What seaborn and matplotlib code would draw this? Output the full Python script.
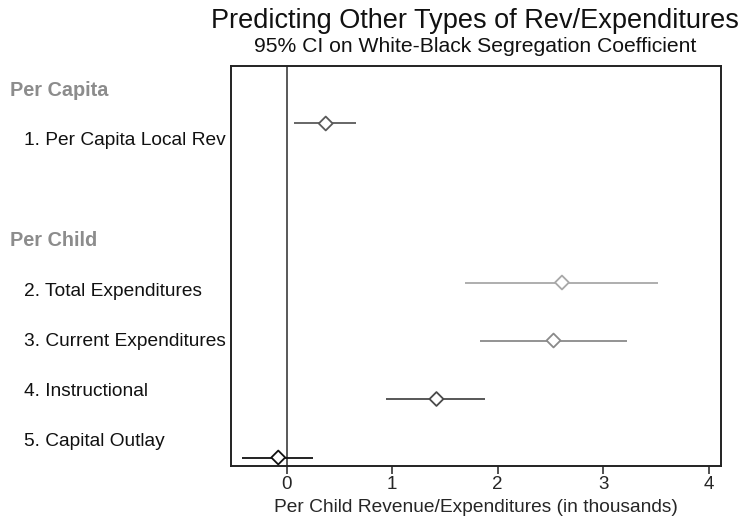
import matplotlib
matplotlib.use("Agg")
import matplotlib.pyplot as plt
import matplotlib.transforms as mtransforms
import seaborn as sns
import pandas as pd

# Outcomes and their estimated segregation coefficients with 95% CIs
outcomes = ["1. Per Capita Local Rev", "2. Total Expenditures",
            "3. Current Expenditures", "4. Instructional", "5. Capital Outlay"]
estimates = [0.37, 2.61, 2.53, 1.42, -0.08]
ci_low = [0.07, 1.69, 1.83, 0.94, -0.42]
ci_high = [0.66, 3.52, 3.23, 1.88, 0.25]
colors = ["#5a5a5a", "#a8a8a8", "#8a8a8a", "#4a4a4a", "#111111"]

# Row layout (band units from the top of the plot)
marker_rows = [1.15, 4.33, 5.49, 6.66, 7.83]
group_headers = ["Per Capita", "Per Child"]
header_rows = [0.5, 3.5]
label_rows = [1.5, 4.5, 5.5, 6.5, 7.5]

xticks = [0, 1, 2, 3, 4]
xlabel = "Per Child Revenue/Expenditures (in thousands)"
title = "Predicting Other Types of Rev/Expenditures"
subtitle = "95% CI on White-Black Segregation Coefficient"

sns.set_style("white")
plt.rcParams["font.family"] = ["Liberation Sans", "DejaVu Sans"]

df = pd.DataFrame({"outcome": outcomes, "est": estimates, "lo": ci_low,
                   "hi": ci_high, "row": marker_rows})

fig = plt.figure(figsize=(7.41, 5.19), dpi=100)
ax = fig.add_axes([230.7 / 741, 1 - 466 / 519, (721 - 230.7) / 741, (466 - 66) / 519])

# Reference line at zero
ax.axvline(0, color="#3c3c3c", lw=1.2, zorder=1)

# Confidence intervals
for i, r in df.iterrows():
    ax.hlines(r["row"], r["lo"], r["hi"], color=colors[i], lw=1.3, zorder=2)

# Point estimates
sns.scatterplot(data=df, x="est", y="row", hue="outcome", palette=colors,
                marker="D", s=50, linewidth=1.3, legend=False, ax=ax, zorder=3)
pts = ax.collections[-1]
pts.set_facecolor("white")
pts.set_edgecolor(colors)

ax.set_xlim(-0.531, 4.118)
ax.set_ylim(8, 0)
ax.set_xticks(xticks)
ax.set_xticklabels([str(t) for t in xticks], fontsize=13.5)
ax.set_xlabel(xlabel, fontsize=13.8, labelpad=4)
ax.set_ylabel("")

# Band separators show as small breaks in the side frame
ax.set_yticks([1, 2, 3, 4, 5, 6, 7])
ax.set_yticklabels([])
ax.tick_params(axis="y", left=True, right=True, direction="inout",
               length=4, width=1.2, color="white")
ax.tick_params(axis="x", bottom=True, direction="out", length=6,
               width=1.2, color="#333333", pad=1.5)

for s in ax.spines.values():
    s.set_color("#222222")
    s.set_linewidth(1.4)

# Row labels placed in the left margin
trans = mtransforms.blended_transform_factory(fig.transFigure, ax.transData)
for name, y in zip(group_headers, header_rows):
    ax.text(10 / 741, y, name, transform=trans, ha="left", va="center",
            fontsize=14.3, fontweight="bold", color="#8c8c8c")
for name, y in zip(outcomes, label_rows):
    ax.text(24 / 741, y, name, transform=trans, ha="left", va="center",
            fontsize=13.8, color="#111111")

fig.text(475 / 741, 1 - 21 / 519, title, ha="center", va="center",
         fontsize=19.5, color="#111111")
fig.text(475 / 741, 1 - 47 / 519, subtitle, ha="center", va="center",
         fontsize=15.2, color="#111111")

fig.savefig("out.png", dpi=100)
